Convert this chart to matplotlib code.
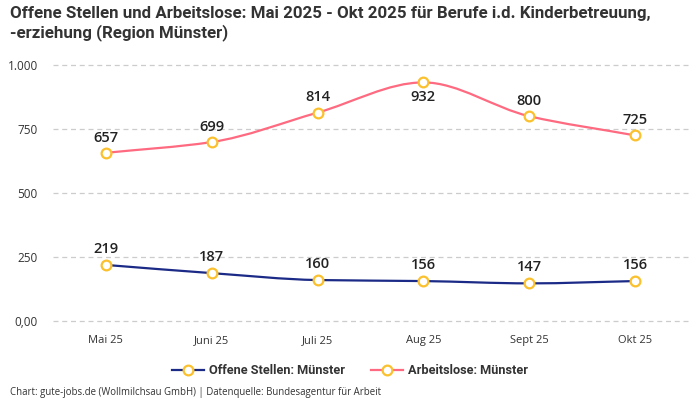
import matplotlib
matplotlib.use("Agg")
import matplotlib.pyplot as plt
from matplotlib.path import Path
from matplotlib.patches import PathPatch
from matplotlib.lines import Line2D
import numpy as np

months = ["Mai 25", "Juni 25", "Juli 25", "Aug 25", "Sept 25", "Okt 25"]
offene = [219, 187, 160, 156, 147, 156]
arbeitslose = [657, 699, 814, 932, 800, 725]
yticks = [0, 250, 500, 750, 1000]
ytick_labels = ["0,00", "250", "500", "750", "1.000"]
series_names = ["Offene Stellen: Münster", "Arbeitslose: Münster"]

BLUE = "#1b2a86"
PINK = "#ff6a80"
YELLOW = "#fbc02d"
TXT = "#333333"

plt.rcParams['font.family'] = ['Open Sans', 'DejaVu Sans']

fig = plt.figure(figsize=(7, 4), dpi=100)
ax = fig.add_axes([53/700, 1-321/400, 635/700, 256/400])
ax.set_xlim(-0.5, 5.5)
ax.set_ylim(0, 1000)


def monotone_path(x, y):
    x = np.asarray(x, float); y = np.asarray(y, float)
    n = len(x)
    h = np.diff(x); d = np.diff(y) / h
    m = np.zeros(n)
    m[0] = d[0]; m[-1] = d[-1]
    for i in range(1, n-1):
        if d[i-1] * d[i] <= 0:
            m[i] = 0
        else:
            w1 = 2*h[i] + h[i-1]; w2 = h[i] + 2*h[i-1]
            m[i] = (w1 + w2) / (w1/d[i-1] + w2/d[i])
    verts = [(x[0], y[0])]; codes = [Path.MOVETO]
    for i in range(n-1):
        dx = h[i] / 3
        verts += [(x[i]+dx, y[i]+m[i]*dx), (x[i+1]-dx, y[i+1]-m[i+1]*dx), (x[i+1], y[i+1])]
        codes += [Path.CURVE4]*3
    return Path(verts, codes)


for yt in yticks:
    ax.axhline(yt, color="#cccccc", lw=0.9, ls=(0, (4, 3)), zorder=0, clip_on=False)

xs = np.arange(len(months))
for vals, col in [(offene, BLUE), (arbeitslose, PINK)]:
    p = PathPatch(monotone_path(xs, vals), facecolor="none", edgecolor=col, lw=1.6, zorder=2, clip_on=False)
    ax.add_patch(p)
    ax.plot(xs, vals, ls="none", marker="o", ms=7, mfc="white", mec=YELLOW, mew=1.6, zorder=3, clip_on=False)

lab_kw = dict(textcoords="offset points", ha="center", va="center",
              fontsize=10.5, fontweight="semibold", color="#222222")
for i, v in enumerate(offene):
    ax.annotate(str(v), (i, v), xytext=(0, 11.5), **lab_kw)
for i, v in enumerate(arbeitslose):
    dy = -10.5 if i == 3 else 11
    ax.annotate(str(v), (i, v), xytext=(0, dy), **lab_kw)

ax.set_xticks(xs)
ax.set_xticklabels(months, fontsize=8, color=TXT)
ax.set_yticks(yticks)
ax.set_yticklabels(ytick_labels, fontsize=8.5, color=TXT)
ax.tick_params(length=0, pad=10)
ax.tick_params(axis="y", pad=11)
for s in ax.spines.values():
    s.set_visible(False)

handles = [Line2D([0], [0], color=BLUE, lw=1.6, marker="o", ms=7, mfc="white", mec=YELLOW, mew=1.6),
           Line2D([0], [0], color=PINK, lw=1.6, marker="o", ms=7, mfc="white", mec=YELLOW, mew=1.6)]
leg = fig.legend(handles, series_names, loc="center", bbox_to_anchor=(0.5, 1-371/400), ncol=2,
                 frameon=False, handlelength=2.5, columnspacing=2.0, handletextpad=0.4,
                 prop={"size": 9.2, "weight": "bold",
                       "family": ["Liberation Sans Narrow", "Roboto", "DejaVu Sans"]})
for t in leg.get_texts():
    t.set_color(TXT)

fig.text(10/700, 1-6/400, "Offene Stellen und Arbeitslose: Mai 2025 - Okt 2025 für Berufe i.d. Kinderbetreuung,\n-erziehung (Region Münster)",
         ha="left", va="top", fontsize=12.2, fontweight="bold", color=TXT, linespacing=1.2,
         family=["Liberation Sans Narrow", "Roboto", "DejaVu Sans"])
fig.text(10/700, 1-393/400, "Chart: gute-jobs.de (Wollmilchsau GmbH) | Datenquelle: Bundesagentur für Arbeit",
         ha="left", va="center", fontsize=6.9, color=TXT)

fig.savefig("out.png", dpi=100)
